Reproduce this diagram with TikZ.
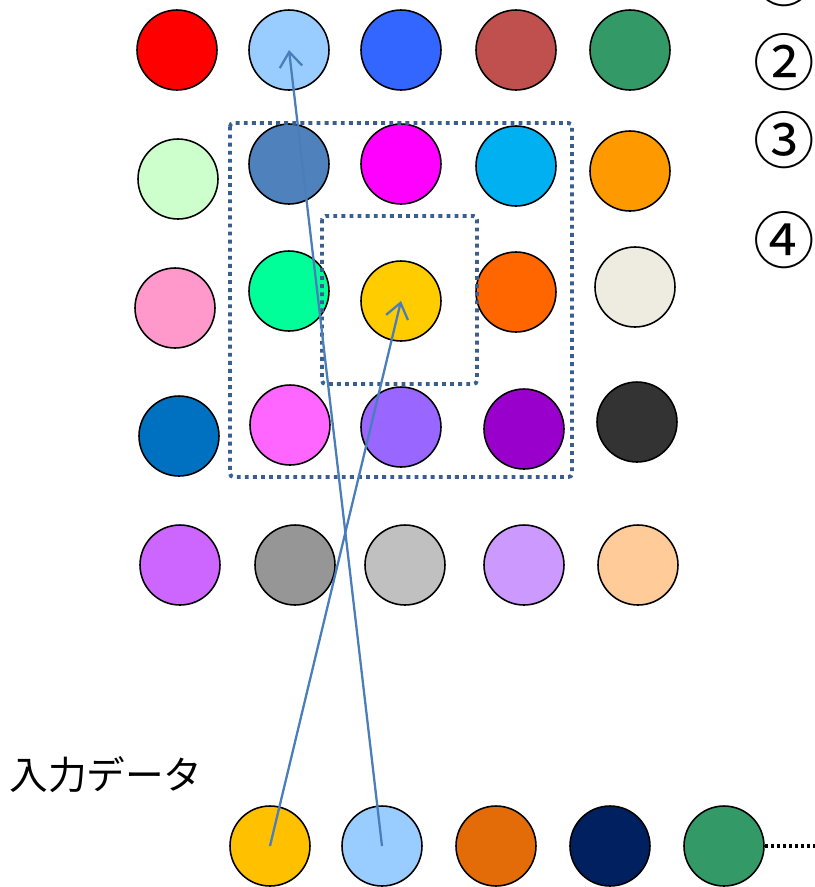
\documentclass[tikz,border=0pt]{standalone}
\usepackage{fontspec}
\newfontfamily\jpfont{Noto Sans CJK JP}
\usepackage{tikz}
\usetikzlibrary{arrows.meta, positioning}
\definecolor{frameblue}{HTML}{3A5F8F}
\definecolor{linkblue}{HTML}{4A7EBB}
\tikzset{
  unitdot/.style={
    circle, draw=black, line width=0.9pt, minimum size=1.6cm, inner sep=0pt
  },
  framebox/.style={
    draw=frameblue, line width=2.2pt, dash pattern=on 2.2pt off 2.4pt,
    rounded corners=2pt
  },
  linkarrow/.style={
    -{Straight Barb[length=3mm,width=4.5mm]}, line width=1.3pt, color=linkblue
  },
  numlabel/.style={
    font=\jpfont\fontsize{35}{35}\selectfont, inner sep=0pt
  },
}

\begin{document}
\begin{tikzpicture}[x=0.02cm, y=-0.02cm]
  \useasboundingbox (0,0) rectangle (815,887);
  \clip (0,0) rectangle (815,887);

  % ── Map units (5 x 5) ──────────────────────────────────────────
  \foreach \n/\x/\y/\col in {
      c11/177/50/FF0000, c12/289/50/99CCFF, c13/401/50/3366FF,
      c14/516/50/C0504D, c15/630/50/339966,
      c21/178/179/CCFFCC, c22/289/164/4F81BD, c23/401/164/FF00FF,
      c24/516/166/00B0F0, c25/630/171/FF9900,
      c31/175/308/FF99CC, c32/289/291/00FF99, c33/401/301/FFCC00,
      c34/516/292/FF6600, c35/635/287/EEECE1,
      c41/179/436/0070C0, c42/290/425/FF66FF, c43/401/427/9966FF,
      c44/524/429/9900CC, c45/637/422/333333,
      c51/180/565/CC66FF, c52/295/565/969696, c53/405/565/C0C0C0,
      c54/524/565/CC99FF, c55/638/565/FFCC99} {
    \definecolor{unitfill}{HTML}{\col}
    \node[unitdot, fill=unitfill] (\n) at (\x,\y) {};
  }

  % ── Neighbourhood frames ───────────────────────────────────────
  \draw[framebox] (230,123) rectangle (572,477);
  \draw[framebox] (322,216) rectangle (477,384);

  % ── Input data ─────────────────────────────────────────────────
  \node[font=\jpfont\fontsize{22}{22}\selectfont, anchor=west, inner sep=0pt]
    (inlabel) at (9,775) {入力データ};

  \foreach \n/\x/\col in {
      in1/270/FFC000, in2/382/99CCFF, in3/496/E36C09,
      in4/610/002060, in5/724/339966} {
    \definecolor{unitfill}{HTML}{\col}
    \node[unitdot, fill=unitfill] (\n) at (\x,846) {};
  }

  \coordinate (more) at (815,846);
  \draw[line width=1.8pt, dash pattern=on 1.8pt off 1.6pt] (in5.east) -- (more);

  % Input vectors to best matching units
  \draw[linkarrow] (in1.center) -- (c33.center);
  \draw[linkarrow] (in2.center) -- (c12.center);

  % ── Steps ──────────────────────────────────────────────────────
  \node[numlabel] (step1) at (784,-22) {①};
  \node[numlabel] (step2) at (784,62) {②};
  \node[numlabel] (step3) at (784,140) {③};
  \node[numlabel] (step4) at (784,240) {④};
\end{tikzpicture}
\end{document}
